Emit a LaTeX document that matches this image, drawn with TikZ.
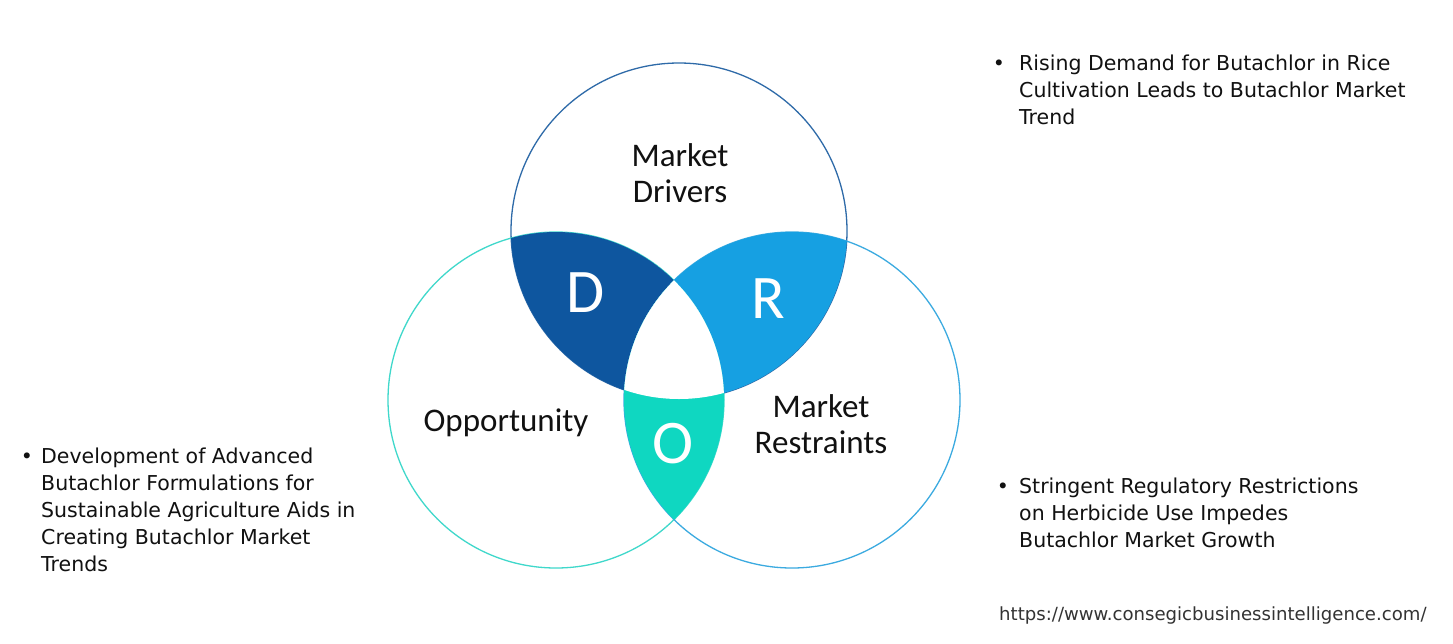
\documentclass[tikz,border=0pt]{standalone}
\usepackage{fontspec}
\setmainfont{DejaVu Sans}
\newfontfamily\calfont{Carlito}
\definecolor{dcol}{HTML}{0E569F}
\definecolor{rcol}{HTML}{16A0E2}
\definecolor{ocol}{HTML}{0FD7C1}
\definecolor{topline}{HTML}{2E6AA8}
\definecolor{leftline}{HTML}{3FD8CB}
\definecolor{rightline}{HTML}{3BAAE0}
\definecolor{txt}{HTML}{111111}
\definecolor{urlcol}{HTML}{333333}
\tikzset{
  venntext/.style={font=\calfont\fontsize{33}{36}\selectfont, text=txt, inner sep=0pt, anchor=base},
  bigletter/.style={font=\calfont\fontsize{62}{62}\selectfont, text=white, inner sep=0pt, anchor=base},
  bullettext/.style={font=\fontsize{20.5}{27}\selectfont, text=txt, inner sep=0pt, anchor=base west, align=left},
  bulletdot/.style={font=\fontsize{20.5}{27}\selectfont, text=txt, inner sep=0pt, anchor=base},
  ring/.style={line width=1.3pt}
}
\begin{document}
\begin{tikzpicture}[x=1pt,y=-1pt]
\useasboundingbox (0,0) rectangle (1453,643);
\fill[white] (0,0) rectangle (1453,643);
\coordinate (ct) at (679,231);
\coordinate (cl) at (556,400);
\coordinate (cr) at (792,400);
\def\rad{168pt}
% outlines
\draw[ring, topline] (ct) circle[radius=\rad];
\draw[ring, leftline] (cl) circle[radius=\rad];
\draw[ring, rightline] (cr) circle[radius=\rad];
% D region
\begin{scope}
  \clip (ct) circle[radius=\rad];
  \clip (cl) circle[radius=\rad];
  \fill[dcol] (cl) circle[radius=\rad];
  \fill[white] (cr) circle[radius=\rad];
\end{scope}
% R region
\begin{scope}
  \clip (ct) circle[radius=\rad];
  \clip (cr) circle[radius=\rad];
  \fill[rcol] (cr) circle[radius=\rad];
  \fill[white] (cl) circle[radius=\rad];
\end{scope}
% O region
\begin{scope}
  \clip (cl) circle[radius=\rad];
  \clip (cr) circle[radius=\rad];
  \fill[ocol] (cr) circle[radius=\rad];
  \fill[white] (ct) circle[radius=\rad];
\end{scope}
% labels
\node[venntext] (md1) at (680,166) {Market};
\node[venntext] (md2) at (680,202) {Drivers};
\node[venntext] (opp) at (506,431) {Opportunity};
\node[venntext] (mr1) at (821,417) {Market};
\node[venntext] (mr2) at (821,453) {Restraints};
\node[bigletter] (ld) at (586,312) {D};
\node[bigletter] (lr) at (768,318) {R};
\node[bigletter] (lo) at (673,463) {O};
% bullet texts (base anchor = last line baseline)
\node[bulletdot] (b1) at (999,70) {•};
\node[bullettext] (t1) at (1019,124) {Rising Demand for Butachlor in Rice\\Cultivation Leads to Butachlor Market\\Trend};
\node[bulletdot] (b2) at (27,463) {•};
\node[bullettext] (t2) at (41,571) {Development of Advanced\\Butachlor Formulations for\\Sustainable Agriculture Aids in\\Creating Butachlor Market\\Trends};
\node[bulletdot] (b3) at (1003,493) {•};
\node[bullettext] (t3) at (1019,547) {Stringent Regulatory Restrictions\\on Herbicide Use Impedes\\Butachlor Market Growth};
\node[font=\fontsize{18.1}{20}\selectfont, text=urlcol, inner sep=0pt, anchor=base west] (url) at (999,620) {https://www.consegicbusinessintelligence.com/};
\end{tikzpicture}
\end{document}
